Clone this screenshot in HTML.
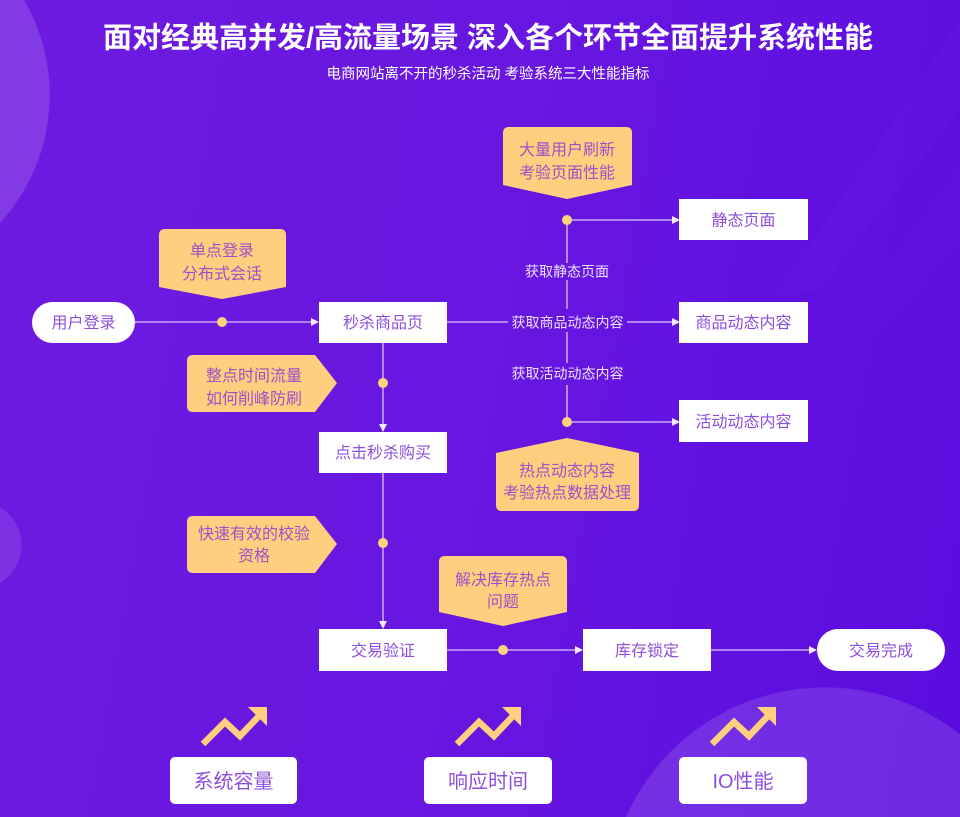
<!DOCTYPE html>
<html><head><meta charset="utf-8">
<style>
html,body{margin:0;padding:0;width:960px;height:817px;overflow:hidden;}
body{background:
radial-gradient(circle 190px at -140px 95px, rgba(255,255,255,0.14) 99.6%, rgba(255,255,255,0) 100%),
radial-gradient(circle 44px at -22px 545px, rgba(255,255,255,0.10) 98%, rgba(255,255,255,0) 100%),
radial-gradient(circle 218px at 825px 905px, rgba(255,255,255,0.12) 99.6%, rgba(255,255,255,0) 100%),
linear-gradient(100deg,#6e1be0 0%,#6716e0 55%,#5a0cdf 100%);}
svg{display:block;overflow:hidden;}
text{font-family:"Liberation Sans","Noto Sans CJK SC",sans-serif;}
</style></head><body>
<svg width="960" height="817" viewBox="0 0 960 817" xmlns="http://www.w3.org/2000/svg">
<!-- decorative -->
<polygon points="960,20 960,110 820,290 780,290" fill="#ffffff" fill-opacity="0.015"/>
<polygon points="960,160 960,250 860,350 830,350" fill="#ffffff" fill-opacity="0.012"/>

<!-- title -->
<text x="488" y="47.5" font-size="29" font-weight="bold" fill="#ffffff" text-anchor="middle">面对经典高并发/高流量场景 深入各个环节全面提升系统性能</text>
<text x="488" y="78.5" font-size="14.5" fill="#ffffff" text-anchor="middle">电商网站离不开的秒杀活动 考验系统三大性能指标</text>

<!-- connectors -->
<g stroke="#c9a6f7" stroke-width="1.6" fill="none">
<line x1="135" y1="322" x2="313" y2="322"/>
<line x1="383" y1="343" x2="383" y2="426"/>
<line x1="383" y1="473" x2="383" y2="623"/>
<line x1="447" y1="650" x2="577" y2="650"/>
<line x1="711" y1="650" x2="811" y2="650"/>
<line x1="447" y1="322" x2="508" y2="322"/>
<line x1="627" y1="322" x2="674" y2="322"/>
<line x1="567" y1="220" x2="674" y2="220"/>
<line x1="567" y1="422" x2="674" y2="422"/>
<line x1="567" y1="220" x2="567" y2="263"/>
<line x1="567" y1="280" x2="567" y2="309"/>
<line x1="567" y1="332" x2="567" y2="363"/>
<line x1="567" y1="385" x2="567" y2="422"/>
</g>
<!-- arrowheads -->
<g fill="#f3eaff">
<polygon points="319,322 311,318 311,326"/>
<polygon points="383,432 379,424 387,424"/>
<polygon points="383,629 379,621 387,621"/>
<polygon points="583,650 575,646 575,654"/>
<polygon points="817,650 809,646 809,654"/>
<polygon points="680,220 672,216 672,224"/>
<polygon points="680,322 672,318 672,326"/>
<polygon points="680,422 672,418 672,426"/>
</g>
<!-- edge labels -->
<g font-size="14" fill="#ece2ff" text-anchor="middle">
<text x="567" y="276.5">获取静态页面</text>
<text x="567.5" y="327.5">获取商品动态内容</text>
<text x="567.5" y="378.5">获取活动动态内容</text>
</g>
<!-- dots -->
<g fill="#ffd27e">
<circle cx="222" cy="322" r="5"/>
<circle cx="383" cy="383" r="5"/>
<circle cx="383" cy="543" r="5"/>
<circle cx="503" cy="650" r="5"/>
<circle cx="567" cy="220" r="5"/>
<circle cx="567" cy="422" r="5"/>
</g>

<!-- callouts -->
<g fill="#ffcf7f">
<path d="M159,235 Q159,229 165,229 L280,229 Q286,229 286,235 L286,287 L222,299 L159,287 Z"/>
<path d="M503,133 Q503,127 509,127 L626,127 Q632,127 632,133 L632,185 L567,199 L503,185 Z"/>
<path d="M193,355 L315,355 L337,383 L315,412 L193,412 Q187,412 187,406 L187,361 Q187,355 193,355 Z"/>
<path d="M193,516 L315,516 L337,544 L315,573 L193,573 Q187,573 187,567 L187,522 Q187,516 193,516 Z"/>
<path d="M496,453 L567,438 L639,453 L639,505 Q639,511 633,511 L502,511 Q496,511 496,505 Z"/>
<path d="M439,562 Q439,556 445,556 L561,556 Q567,556 567,562 L567,612 L503,626 L439,612 Z"/>
</g>
<g font-size="16" fill="#9a52c8" text-anchor="middle">
<text x="222" y="256">单点登录</text>
<text x="222" y="279">分布式会话</text>
<text x="567" y="155">大量用户刷新</text>
<text x="567" y="178">考验页面性能</text>
<text x="254" y="381">整点时间流量</text>
<text x="254" y="404">如何削峰防刷</text>
<text x="254" y="539">快速有效的校验</text>
<text x="254" y="561">资格</text>
<text x="567" y="476">热点动态内容</text>
<text x="567" y="498">考验热点数据处理</text>
<text x="503" y="585">解决库存热点</text>
<text x="503" y="607">问题</text>
</g>

<!-- nodes -->
<g fill="#ffffff">
<rect x="32" y="302" width="103" height="41" rx="20.5"/>
<rect x="319" y="302" width="128" height="41"/>
<rect x="319" y="432" width="128" height="41"/>
<rect x="319" y="629" width="128" height="42"/>
<rect x="583" y="629" width="128" height="42"/>
<rect x="817" y="629" width="128" height="42" rx="21"/>
<rect x="679" y="199" width="129" height="41"/>
<rect x="679" y="302" width="129" height="41"/>
<rect x="679" y="400" width="129" height="42"/>
<rect x="170" y="757" width="127" height="47" rx="5"/>
<rect x="424" y="757" width="128" height="47" rx="5"/>
<rect x="679" y="757" width="128" height="47" rx="5"/>
</g>
<g font-size="16" fill="#8d4fdc" text-anchor="middle">
<text x="83.5" y="328">用户登录</text>
<text x="383" y="328">秒杀商品页</text>
<text x="383" y="458">点击秒杀购买</text>
<text x="383" y="656">交易验证</text>
<text x="647" y="656">库存锁定</text>
<text x="881" y="656">交易完成</text>
<text x="743.5" y="225.5">静态页面</text>
<text x="743.5" y="328">商品动态内容</text>
<text x="743.5" y="427">活动动态内容</text>
</g>
<g font-size="20" fill="#8d4fdc" text-anchor="middle">
<text x="233.5" y="788">系统容量</text>
<text x="488" y="788">响应时间</text>
<text x="743" y="788">IO性能</text>
</g>

<!-- trend icons -->
<g>
<polyline points="203,744 225,722 240,736 259,716" fill="none" stroke="#ffcf7f" stroke-width="6.5"/>
<polygon points="248,707 267,707 267,726" fill="#ffcf7f"/>
</g>
<g transform="translate(254,0)">
<polyline points="203,744 225,722 240,736 259,716" fill="none" stroke="#ffcf7f" stroke-width="6.5"/>
<polygon points="248,707 267,707 267,726" fill="#ffcf7f"/>
</g>
<g transform="translate(509,0)">
<polyline points="203,744 225,722 240,736 259,716" fill="none" stroke="#ffcf7f" stroke-width="6.5"/>
<polygon points="248,707 267,707 267,726" fill="#ffcf7f"/>
</g>
</svg>
</body></html>
